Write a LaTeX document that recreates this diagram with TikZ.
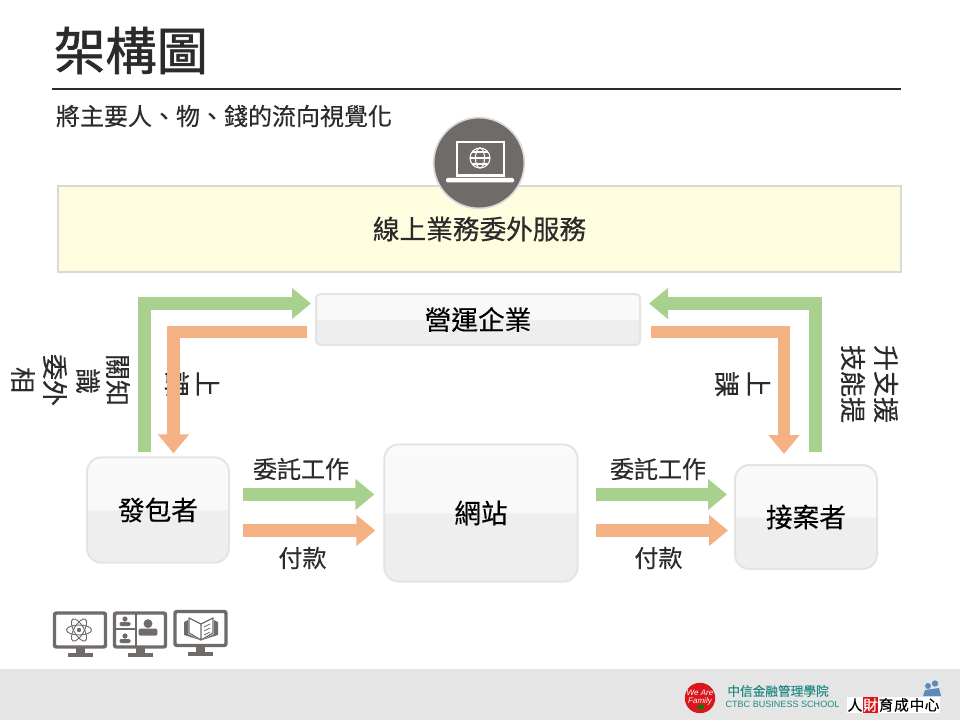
\documentclass[tikz,border=0pt]{standalone}
\usepackage{fontspec}
\setmainfont{Noto Sans CJK TC}[FakeBold=0.35]
\newfontfamily\titlefont{Noto Sans CJK TC}[FakeBold=1.2]
\newfontfamily\plainfont{Noto Sans CJK TC}
\newfontfamily\latinlogo{Liberation Sans}
\usetikzlibrary{arrows.meta}

\definecolor{flowgreen}{HTML}{A9D18E}
\definecolor{floworange}{HTML}{F4B183}
\definecolor{icongray}{HTML}{6F6B69}
\definecolor{textdark}{HTML}{2B2B2B}
\definecolor{boxedge}{HTML}{E4E4E4}
\definecolor{glossup}{HTML}{FBFBFB}
\definecolor{glossdown}{HTML}{EEEEEE}
\definecolor{logoteal}{HTML}{1F8B84}
\definecolor{logored}{HTML}{D9161C}
\definecolor{logoblue}{HTML}{5B8DB8}

\pgfdeclareverticalshading{glossbox}{100bp}{
	color(0bp)=(glossdown);
	color(49.9bp)=(glossdown);
	color(50.1bp)=(glossup!80!glossdown);
	color(100bp)=(glossup)}

\tikzset{
	actorbox/.style = {draw=boxedge,line width=1.5pt,shading=glossbox,rounded corners=11pt,font=\fontsize{20}{24}\selectfont,text=black,inner sep=0pt},
	greenflow/.style = {draw=flowgreen,line width=9.75pt,-{Triangle[width=22.5pt,length=14.25pt]}},
	orangeflow/.style = {draw=floworange,line width=9.25pt,-{Triangle[width=22.5pt,length=14.25pt]}},
	flowlabel/.style = {font=\fontsize{18}{22}\selectfont,text=textdark,inner sep=0pt},
	sidelabel/.style = {font=\fontsize{19.5}{22}\selectfont,text=textdark,inner sep=0pt,rotate=-90}
}

\begin{document}
\begin{tikzpicture}[x=0.75pt,y=-0.75pt]

	\useasboundingbox (0,0) rectangle (960,720);
	\fill[white] (0,0) rectangle (960,720);
	\fill[black!10] (0,669) rectangle (960,720);

	\node[font=\titlefont\fontsize{38.5}{44}\selectfont,text=textdark,inner sep=0pt] (titleText) at (131,50.5) {架構圖};
	\draw[textdark,line width=1.5pt] (52,89) -- (901,89);
	\node[flowlabel] (subText) at (224,116) {將主要人、物、錢的流向視覺化};

	\node[draw=black!15,fill=yellow!12,line width=1.5pt,minimum width=632pt,minimum height=64pt,font=\fontsize{20}{24}\selectfont,text=textdark] (bizBand) at (479.5,229) {線上業務委外服務};

	% laptop badge
	\node[circle,draw=black!15,fill=icongray,line width=1.2pt,minimum size=68pt,inner sep=0pt] (laptopBadge) at (479,163) {};
	\draw[white,line width=2pt] (457,142) rectangle (504,175.5);
	\fill[white,rounded corners=1pt] (446,178) rectangle (514,182.5);
	\draw[white,line width=0.8pt] (480,158) circle (10);
	\draw[white,line width=0.8pt] (480,158) ellipse (4.5 and 10);
	\draw[white,line width=0.8pt] (470,158) -- (490,158) (472,152) -- (488,152) (472,164) -- (488,164);

	\node[actorbox,rounded corners=3pt,minimum width=243pt,minimum height=38pt] (yingYun) at (478,319.5) {營運企業};
	\node[actorbox,minimum width=106.5pt,minimum height=79pt] (faBao) at (158,510) {發包者};
	\node[actorbox,minimum width=145pt,minimum height=103pt] (wangZhan) at (481,513) {網站};
	\node[actorbox,minimum width=106.5pt,minimum height=78pt] (jieAn) at (806,517) {接案者};

	\coordinate (rowTop) at (0,303.5);
	\coordinate (rowSub) at (0,332);
	\coordinate (colA) at (144.5,0);
	\coordinate (colB) at (173.5,0);
	\coordinate (colC) at (784,0);
	\coordinate (colD) at (815.5,0);
	\coordinate (rowWork) at (0,494.5);
	\coordinate (rowPay) at (0,530.5);

	\node[sidelabel] (sideA) at (118,380) {關知};
	\node[sidelabel] (sideB) at (88,381) {識};
	\node[sidelabel] (sideC) at (55,380) {委外};
	\node[sidelabel] (sideD) at (23,380) {相};
	\node[sidelabel] (sideE) at (208,384) {上};
	\node[sidelabel] (sideF) at (177,384) {課};
	\node[sidelabel] (sideG) at (759,384) {上};
	\node[sidelabel] (sideH) at (727,384) {課};
	\node[sidelabel] (sideI) at (886,384) {升支援};
	\node[sidelabel] (sideJ) at (853,384) {技能提};

	\draw[greenflow,shorten <=3pt,shorten >=3pt] (faBao.north -| colA) |- (yingYun.west |- rowTop);
	\draw[orangeflow,shorten <=6pt,shorten >=2.25pt] (yingYun.west |- rowSub) -| (colB |- faBao.north);
	\draw[greenflow,shorten <=9pt,shorten >=6pt] (jieAn.north -| colD) |- (yingYun.east |- rowTop);
	\draw[orangeflow,shorten <=7.5pt,shorten >=7.5pt] (yingYun.east |- rowSub) -| (colC |- jieAn.north);

	\draw[greenflow,shorten <=9.75pt,shorten >=6.75pt] (faBao.east |- rowWork) -- (wangZhan.west |- rowWork);
	\draw[orangeflow,shorten <=9.75pt,shorten >=6pt] (faBao.east |- rowPay) -- (wangZhan.west |- rowPay);
	\draw[greenflow,shorten <=12.75pt,shorten >=5.25pt] (wangZhan.east |- rowWork) -- (jieAn.west |- rowWork);
	\draw[orangeflow,shorten <=12.75pt,shorten >=4.5pt] (wangZhan.east |- rowPay) -- (jieAn.west |- rowPay);

	\node[flowlabel] (workA) at (301,469) {委託工作};
	\node[flowlabel] (payA) at (302.5,558) {付款};
	\node[flowlabel] (workB) at (658,469) {委託工作};
	\node[flowlabel] (payB) at (658.5,558) {付款};

	% monitors
	\foreach \mx/\my in {80/630,140/630,200.5/628.5}{
		\draw[icongray,line width=2.6pt,rounded corners=1.5pt] (\mx-25.5,\my-17) rectangle (\mx+25.5,\my+17);
		\fill[icongray] (\mx-4.5,\my+17) rectangle (\mx+4.5,\my+24);
		\fill[icongray] (\mx-12.5,\my+23) rectangle (\mx+12.5,\my+27);
	}
	\foreach \a in {0,60,120}
		\draw[icongray,line width=0.7pt,rotate around={\a:(79,630)}] (79,630) ellipse (12.5 and 5);
	\fill[icongray] (79,630) circle (2.2);
	\draw[icongray,line width=1.6pt] (136,613) -- (136,647) (114,629) -- (136,629);
	\foreach \px/\py/\ps in {125/621/1,125/638/1,148/627/1.7}{
		\fill[icongray] (\px,\py-2*\ps) circle (2.6*\ps);
		\fill[icongray,rounded corners=1pt] (\px-5.5*\ps,\py+5*\ps) rectangle (\px+5.5*\ps,\py+1*\ps);
	}
	\fill[icongray] (184,622) -- (188,620) -- (188,634) -- (200,640) -- (184,635) -- cycle;
	\fill[icongray] (218,622) -- (214,620) -- (214,634) -- (202,640) -- (218,635) -- cycle;
	\draw[icongray,line width=0.9pt,line join=round] (201,640) -- (189,633) -- (189,618) -- (201,624) -- (213,618) -- (213,633) -- cycle (201,624) -- (201,640);
	\draw[icongray,line width=0.6pt] (204,627) -- (210,624) (204,631) -- (210,628) (204,635) -- (210,632);

	% footer logos
	\node[circle,fill=logored,minimum size=22.5pt,inner sep=0pt,text=white,font=\latinlogo\itshape\fontsize{6}{6}\selectfont,align=center] (familyLogo) at (700,698) {We Are\\Family};
	\fill[green!50!black] (698,705) rectangle (704,709);
	\node[text=logoteal,font=\fontsize{9.5}{11}\selectfont,inner sep=0pt] (schoolName) at (778,691) {中信金融管理學院};
	\node[text=logoteal,font=\latinlogo\fontsize{6.8}{9}\selectfont,inner sep=0pt] (schoolEng) at (782.5,704) {CTBC BUSINESS SCHOOL};
	\fill[white] (847,697) rectangle (940,713);
	\fill[logored] (863,697) rectangle (878,713);
	\foreach \cx/\ch/\cc in {855/人/black,870.5/財/white,886/育/black,901.5/成/black,917/中/black,932/心/black}
		\node[text=\cc,font=\fontsize{11}{12}\selectfont,inner sep=0pt] at (\cx,705) {\ch};
	\fill[logoblue] (928,686) circle (3) (935,683.5) circle (3.2);
	\fill[logoblue] (923,696) -- (925,690) -- (939,688) -- (941,696) -- cycle;

\end{tikzpicture}
\end{document}
